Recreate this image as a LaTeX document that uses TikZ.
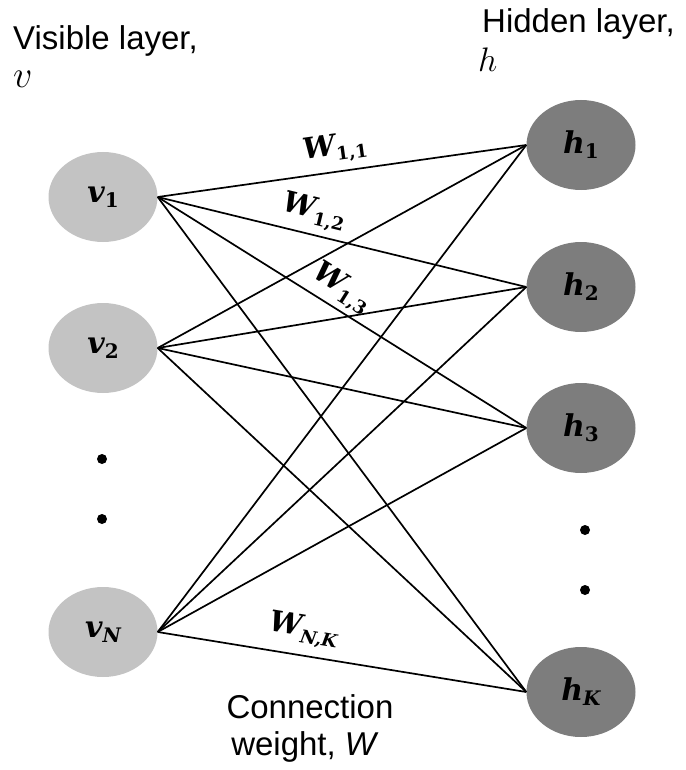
\RequirePackage{fix-cm}
\documentclass[tikz,border=0pt]{standalone}
\usepackage{amsmath}
\usepackage[no-math]{fontspec}
\setmainfont{Liberation Sans}
\newfontfamily\labfont{DejaVu Serif}
\usetikzlibrary{shapes.geometric}
\definecolor{vfill}{RGB}{195,195,195}
\definecolor{hfill}{RGB}{125,125,125}
% node symbol: main letter + lowered subscript
\newcommand\nsym[2]{{\labfont\bfseries\itshape\fontsize{30}{34}\selectfont #1}\raisebox{-5pt}{\labfont\bfseries\fontsize{20}{22}\selectfont #2}}
\newcommand\wsym[1]{{\labfont\bfseries\itshape\fontsize{29}{34}\selectfont W}\raisebox{-6pt}{\labfont\bfseries\fontsize{18}{22}\selectfont #1}}
\begin{document}
\begin{tikzpicture}[x=1pt,y=-1pt,
  vnode/.style={ellipse, fill=vfill, minimum width=109pt, minimum height=90pt, inner sep=0pt},
  hnode/.style={vnode, fill=hfill},
  conn/.style={line width=1.7pt, black},
  wlab/.style={sloped, inner sep=0pt},
  txt/.style={font=\fontsize{33}{38}\selectfont, inner sep=0pt, anchor=base west},
  dotmark/.style={circle, fill=black, minimum size=10pt, inner sep=0pt}]
\useasboundingbox (0,0) rectangle (685,770);

% visible layer
\node[vnode] (v1) at (103,197) {\nsym{v}{1}};
\node[vnode] (v2) at (103,348) {\nsym{v}{2}};
\node[vnode] (vN) at (103,632) {\nsym{v}{\itshape N}};
\node[dotmark] (ld1) at (102,459) {};
\node[dotmark] (ld2) at (102,519) {};

% hidden layer
\node[hnode] (h1) at (581,145) {\nsym{h}{1}};
\node[hnode] (h2) at (581,287) {\nsym{h}{2}};
\node[hnode] (h3) at (581,428) {\nsym{h}{3}};
\node[hnode] (hK) at (581,692) {\nsym{h}{\itshape K}};
\node[dotmark] (rd1) at (585,530) {};
\node[dotmark] (rd2) at (585,590) {};

% connections
\draw[conn] (v1.east) -- (h1.west) node[wlab, pos=0.49, above=7pt] {\wsym{1,1}};
\draw[conn] (v1.east) -- (h2.west) node[wlab, pos=0.41, above=6pt] {\wsym{1,2}};
\draw[conn] (v1.east) -- (h3.west) node[wlab, pos=0.47, above=4pt] {\wsym{1,3}};
\draw[conn] (v1.east) -- (hK.west);
\draw[conn] (v2.east) -- (h1.west);
\draw[conn] (v2.east) -- (h2.west);
\draw[conn] (v2.east) -- (h3.west);
\draw[conn] (v2.east) -- (hK.west);
\draw[conn] (vN.east) -- (h1.west);
\draw[conn] (vN.east) -- (h2.west);
\draw[conn] (vN.east) -- (h3.west);
\draw[conn] (vN.east) -- (hK.west) node[wlab, pos=0.385, above=9pt] {\wsym{\itshape N,K}};

% texts
\node[txt, font=\fontsize{38}{44}\selectfont] (visv) at (13,88) {$v$};
\node[txt] (vis) at (13,50) {Visible layer,};
\node[txt] (hid) at (482,33) {Hidden layer,};
\node[txt, font=\fontsize{34}{40}\selectfont] (hidh) at (478,72) {$h$};
\node[txt, anchor=base] (con1) at (310,718) {Connection};
\node[txt, anchor=base] (con2) at (305,755) {weight, \textit{W}};
\end{tikzpicture}
\end{document}
